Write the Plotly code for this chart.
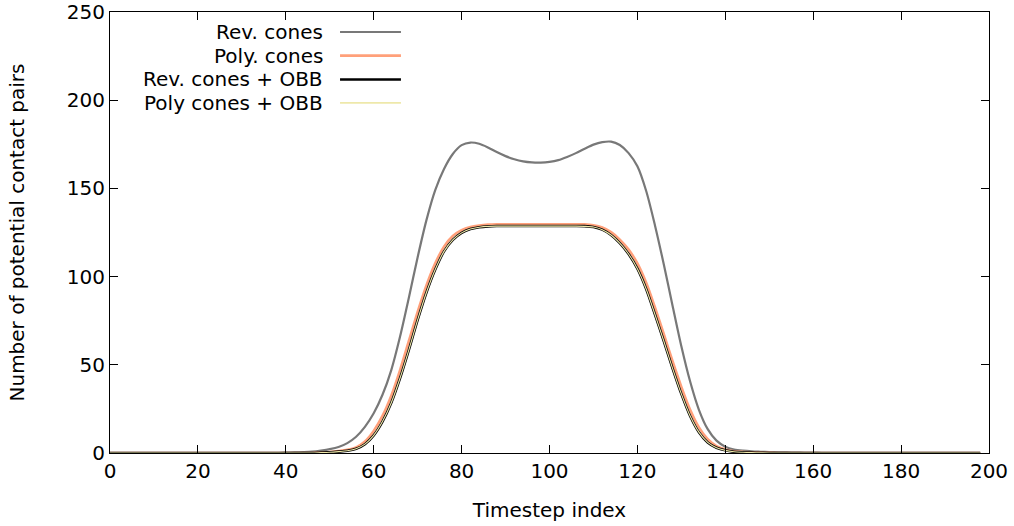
import plotly.graph_objects as go

# ---------------- data ----------------
timestep = list(range(0, 200, 2))  # 0, 2, ..., 198

rev_cones = (
    [0.0] * 20 +                                   # 0..38
    [0.2, 0.3, 0.5, 0.8, 1.4, 2.2, 3.4, 5.6, 9.2, 14.8,   # 40..58
     22.5, 33.0, 47.0, 66.0, 88.0, 111.0, 132.0, 149.0, 161.0, 169.5,  # 60..78
     174.5, 176.0, 175.3, 173.2, 170.6, 168.3, 166.5, 165.3, 164.7, 164.6,  # 80..98
     165.0, 166.0, 167.8, 170.0, 172.5, 174.8, 176.2, 176.5, 174.6, 170.0,  # 100..118
     162.5, 148.5, 129.0, 107.0, 83.5, 60.5, 40.5, 24.5, 13.5, 7.0,  # 120..138
     3.6, 2.0, 1.3, 0.9, 0.7, 0.5, 0.4, 0.3, 0.2, 0.15,  # 140..158
     0.1] + [0.0] * 19                              # 160..198
)

poly_cones = (
    [0.0] * 24 +                                   # 0..46
    [0.3, 0.6, 1.1, 1.8, 3.2, 6.5,                 # 48..58
     12.5, 21.0, 32.5, 47.0, 63.5, 80.0, 95.0, 107.5, 117.0, 123.0,  # 60..78
     126.3, 128.1, 129.0, 129.5, 129.7, 129.7, 129.7, 129.7, 129.7, 129.7,  # 80..98
     129.7, 129.7, 129.7, 129.7, 129.6, 129.1, 127.8, 125.2, 121.0, 115.3,  # 100..118
     107.5, 96.5, 82.5, 67.5, 52.0, 37.5, 24.5, 14.5, 7.8, 3.9,  # 120..138
     2.0, 1.0, 0.6, 0.4, 0.2, 0.1] + [0.0] * 24     # 140..198
)

rev_cones_obb = (
    [0.0] * 24 +
    [0.2, 0.4, 0.8, 1.3, 2.4, 5.0,
     10.0, 17.8, 28.5, 42.5, 58.5, 75.5, 91.0, 104.0, 114.3, 120.8,
     124.8, 127.0, 128.0, 128.5, 128.7, 128.7, 128.7, 128.7, 128.7, 128.7,
     128.7, 128.7, 128.7, 128.7, 128.6, 128.1, 126.6, 123.6, 119.0, 112.8,
     104.5, 93.0, 78.5, 63.5, 48.0, 33.5, 21.0, 11.8, 6.0, 3.0,
     1.5, 0.7, 0.4, 0.2, 0.1, 0.0] + [0.0] * 24
)

poly_cones_obb = (
    [0.0] * 24 +
    [0.2, 0.4, 0.8, 1.3, 2.4, 5.0,
     10.0, 17.8, 28.5, 42.5, 58.5, 75.5, 91.0, 104.0, 114.3, 120.8,
     124.8, 127.0, 128.0, 128.5, 128.6, 128.6, 128.6, 128.6, 128.6, 128.6,
     128.6, 128.6, 128.6, 128.6, 128.5, 128.1, 126.6, 123.6, 119.0, 112.8,
     104.5, 93.0, 78.5, 63.5, 48.0, 33.5, 21.0, 11.8, 6.0, 3.0,
     1.5, 0.7, 0.4, 0.2, 0.1, 0.0] + [0.0] * 24
)

series_names = ["Rev. cones", "Poly. cones", "Rev. cones + OBB", "Poly cones + OBB"]
series_values = [rev_cones, poly_cones, rev_cones_obb, poly_cones_obb]
x_tick_values = list(range(0, 201, 20))
y_tick_values = list(range(0, 251, 50))

# ---------------- styles ----------------
colors = ["#787878", "#ffa07a", "#000000", "#eee8aa"]
widths = [2.2, 2.6, 2.6, 1.1]
legend_widths = [2.2, 2.6, 2.4, 1.6]
FONT = "DejaVu Sans"
FS = 20

fig = go.Figure()
for name, vals, c, w in zip(series_names, series_values, colors, widths):
    fig.add_trace(go.Scatter(
        x=timestep, y=vals, mode="lines", name=name,
        line=dict(color=c, width=w, shape="spline", smoothing=0.8),
        showlegend=False, hoverinfo="skip",
    ))

# gnuplot-style legend: text right-aligned, sample line to its right
legend_y = [0.9546, 0.901, 0.847, 0.794]
for name, c, w, yy in zip(series_names, colors, legend_widths, legend_y):
    fig.add_annotation(
        x=0.2446, y=yy, xref="paper", yref="paper", text=name,
        showarrow=False, xanchor="right", yanchor="middle",
        font=dict(family=FONT, size=FS, color="black"),
    )
    fig.add_shape(
        type="line", xref="paper", yref="paper",
        x0=0.2617, x1=0.331, y0=yy, y1=yy,
        line=dict(color=c, width=w),
    )

axis_common = dict(
    showgrid=False, zeroline=False, showline=True, linecolor="black",
    linewidth=1, mirror="ticks", ticks="inside", ticklen=8, tickwidth=1,
    tickcolor="black", tickfont=dict(family=FONT, size=FS, color="black"),
    automargin=False, ticklabeloverflow="allow",
)

fig.update_layout(
    width=1014, height=526,
    margin=dict(l=110, r=25, t=12, b=73),
    plot_bgcolor="white", paper_bgcolor="white",
    font=dict(family=FONT, size=FS, color="black"),
    xaxis=dict(range=[0, 200], tickvals=x_tick_values,
               title=dict(text="Timestep index", font=dict(family=FONT, size=FS), standoff=20),
               **axis_common),
    yaxis=dict(range=[0, 250], tickvals=y_tick_values,
               title=dict(text="Number of potential contact pairs", font=dict(family=FONT, size=FS), standoff=36),
               **axis_common),
)

# remove the default 8px page margin so the figure fills the window exactly
fig.write_html(
    "out.html",
    config={"displayModeBar": False, "staticPlot": True},
    post_script="document.body.style.margin='0px';document.body.style.overflow='hidden';",
)
